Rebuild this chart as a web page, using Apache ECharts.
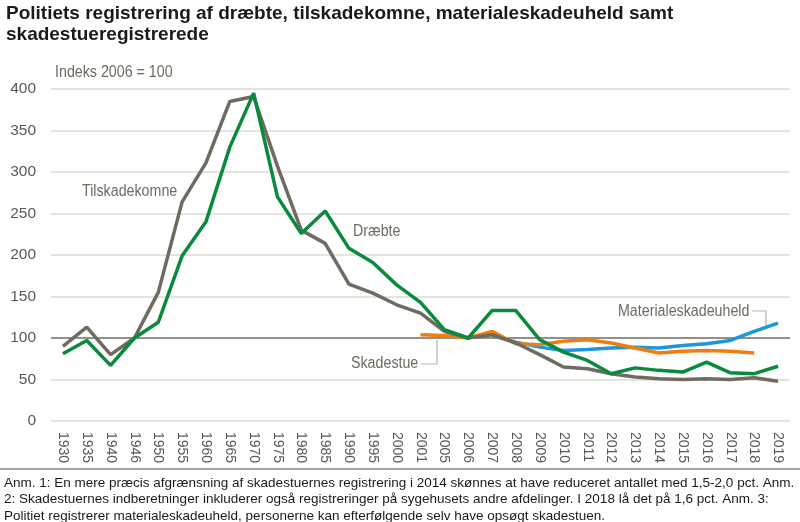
<!DOCTYPE html>
<html>
<head>
<meta charset="utf-8">
<title>ECharts</title>
<script src="https://cdn.jsdelivr.net/npm/echarts@6/dist/echarts.min.js"></script>
<style>
  html, body { margin: 0; padding: 0; background: #fff; }
  #main { width: 800px; height: 522px; }
</style>
</head>
<body>
<div id="main"></div>
<script type="text/javascript">
// kategorier (år)
var years = ['1930','1935','1940','1946','1950','1955','1960','1965','1970','1975','1980','1985','1990','1995','2000',
  '2001','2005','2006','2007','2008','2009','2010','2011','2012','2013','2014','2015','2016','2017','2018','2019'];

// Indeks 2006 = 100
var draebte = [81, 97, 67, 100, 119, 199, 240, 330, 395, 270, 226, 253, 208, 191, 164,
  143, 110, 100, 133, 133, 98, 83, 73, 57, 64, 61, 59, 71, 58, 57, 66];
var tilskadekomne = [90, 113, 80, 100, 155, 264, 311, 385, 391, 307, 230, 214, 165, 154, 140,
  130, 108, 100, 104, 94, 80, 65, 63, 57, 53, 51, 50, 51, 50, 52, 48];
var skadestue = [null, null, null, null, null, null, null, null, null, null, null, null, null, null, null,
  104, 103, 100, 108, 93, 92, 96, 98, 94, 88, 82, 84, 85, 84, 82, null];
var materiale = [null, null, null, null, null, null, null, null, null, null, null, null, null, null, null,
  null, null, null, 103, 95, 89, 85, 86, 88, 89, 88, 91, 93, 97, 108, 118];

var yTicks = [0, 50, 100, 150, 200, 250, 300, 350, 400];

var grey = '#6f6b60';
var font = '"Liberation Sans", Arial, sans-serif';

var myChart = echarts.init(document.getElementById('main'));

function line(name, data, color, z) {
  return {
    name: name,
    type: 'line',
    data: data,
    symbol: 'none',
    z: z,
    lineStyle: { color: color, width: 3.5 },
    itemStyle: { color: color }
  };
}

// smalle tekstetiketter (skaleret vandret som i originalen)
function label(text, x, y) {
  return { type: 'text', x: x, y: y, scaleX: 0.89,
    style: { text: text, font: '16px ' + font, fill: grey } };
}

var series = [
  line('Materialeskadeuheld', materiale, '#1f96dc', 3),
  line('Skadestue', skadestue, '#ef7d0f', 4),
  line('Tilskadekomne', tilskadekomne, '#6f6b60', 5),
  line('Dræbte', draebte, '#0a8a3c', 6)
];
series[0].markLine = {
  silent: true,
  symbol: 'none',
  label: { show: false },
  lineStyle: { color: '#77736a', width: 1.5, type: 'solid' },
  data: [{ yAxis: 100 }],
  z: 2
};

var option = {
  animation: false,
  backgroundColor: '#fff',
  textStyle: { fontFamily: font },
  grid: { left: 51, right: 10, top: 89, bottom: 101 },
  xAxis: {
    type: 'category',
    data: years,
    boundaryGap: true,
    axisLine: { show: false },
    axisTick: { show: false },
    axisLabel: {
      rotate: -90,
      interval: 0,
      margin: 11,
      color: '#595959',
      fontSize: 14,
      fontFamily: font
    }
  },
  yAxis: {
    type: 'value',
    min: yTicks[0],
    max: yTicks[yTicks.length - 1],
    interval: 50,
    axisLine: { show: false },
    axisTick: { show: false },
    splitLine: { lineStyle: { color: '#dcdcd5', width: 1.5 } },
    axisLabel: {
      color: '#595959',
      fontSize: 15.5,
      margin: 15,
      fontFamily: font
    }
  },
  series: series,
  graphic: [
    { type: 'text', left: 6, top: 3, style: {
      text: 'Politiets registrering af dræbte, tilskadekomne, materialeskadeuheld samt\nskadestueregistrerede',
      font: 'bold 19px ' + font, fill: '#1a1a1a', lineHeight: 21 } },
    label('Indeks 2006 = 100', 55, 65),
    label('Tilskadekomne', 82, 184),
    label('Dræbte', 353, 224),
    label('Skadestue', 351, 356),
    { type: 'polyline', shape: { points: [[421, 364], [437, 364], [437, 340]] },
      style: { stroke: '#b5b3ab', lineWidth: 1.2, fill: null } },
    label('Materialeskadeuheld', 618, 304),
    { type: 'polyline', shape: { points: [[752, 311], [766, 311], [766, 327]] },
      style: { stroke: '#b5b3ab', lineWidth: 1.2, fill: null } },
    { type: 'rect', shape: { x: 0, y: 468, width: 800, height: 2 }, style: { fill: '#a6a6a6' } },
    { type: 'text', left: 4, top: 475, style: {
      text: 'Anm. 1: En mere præcis afgrænsning af skadestuernes registrering i 2014 skønnes at have reduceret antallet med 1,5-2,0 pct. Anm.\n' +
        '2: Skadestuernes indberetninger inkluderer også registreringer på sygehusets andre afdelinger. I 2018 lå det på 1,6 pct. Anm. 3:\n' +
        'Politiet registrerer materialeskadeuheld, personerne kan efterfølgende selv have opsøgt skadestuen.',
      font: '13.5px ' + font, fill: '#1a1a1a', lineHeight: 16.5 } }
  ]
};

myChart.setOption(option);
</script>
</body>
</html>
